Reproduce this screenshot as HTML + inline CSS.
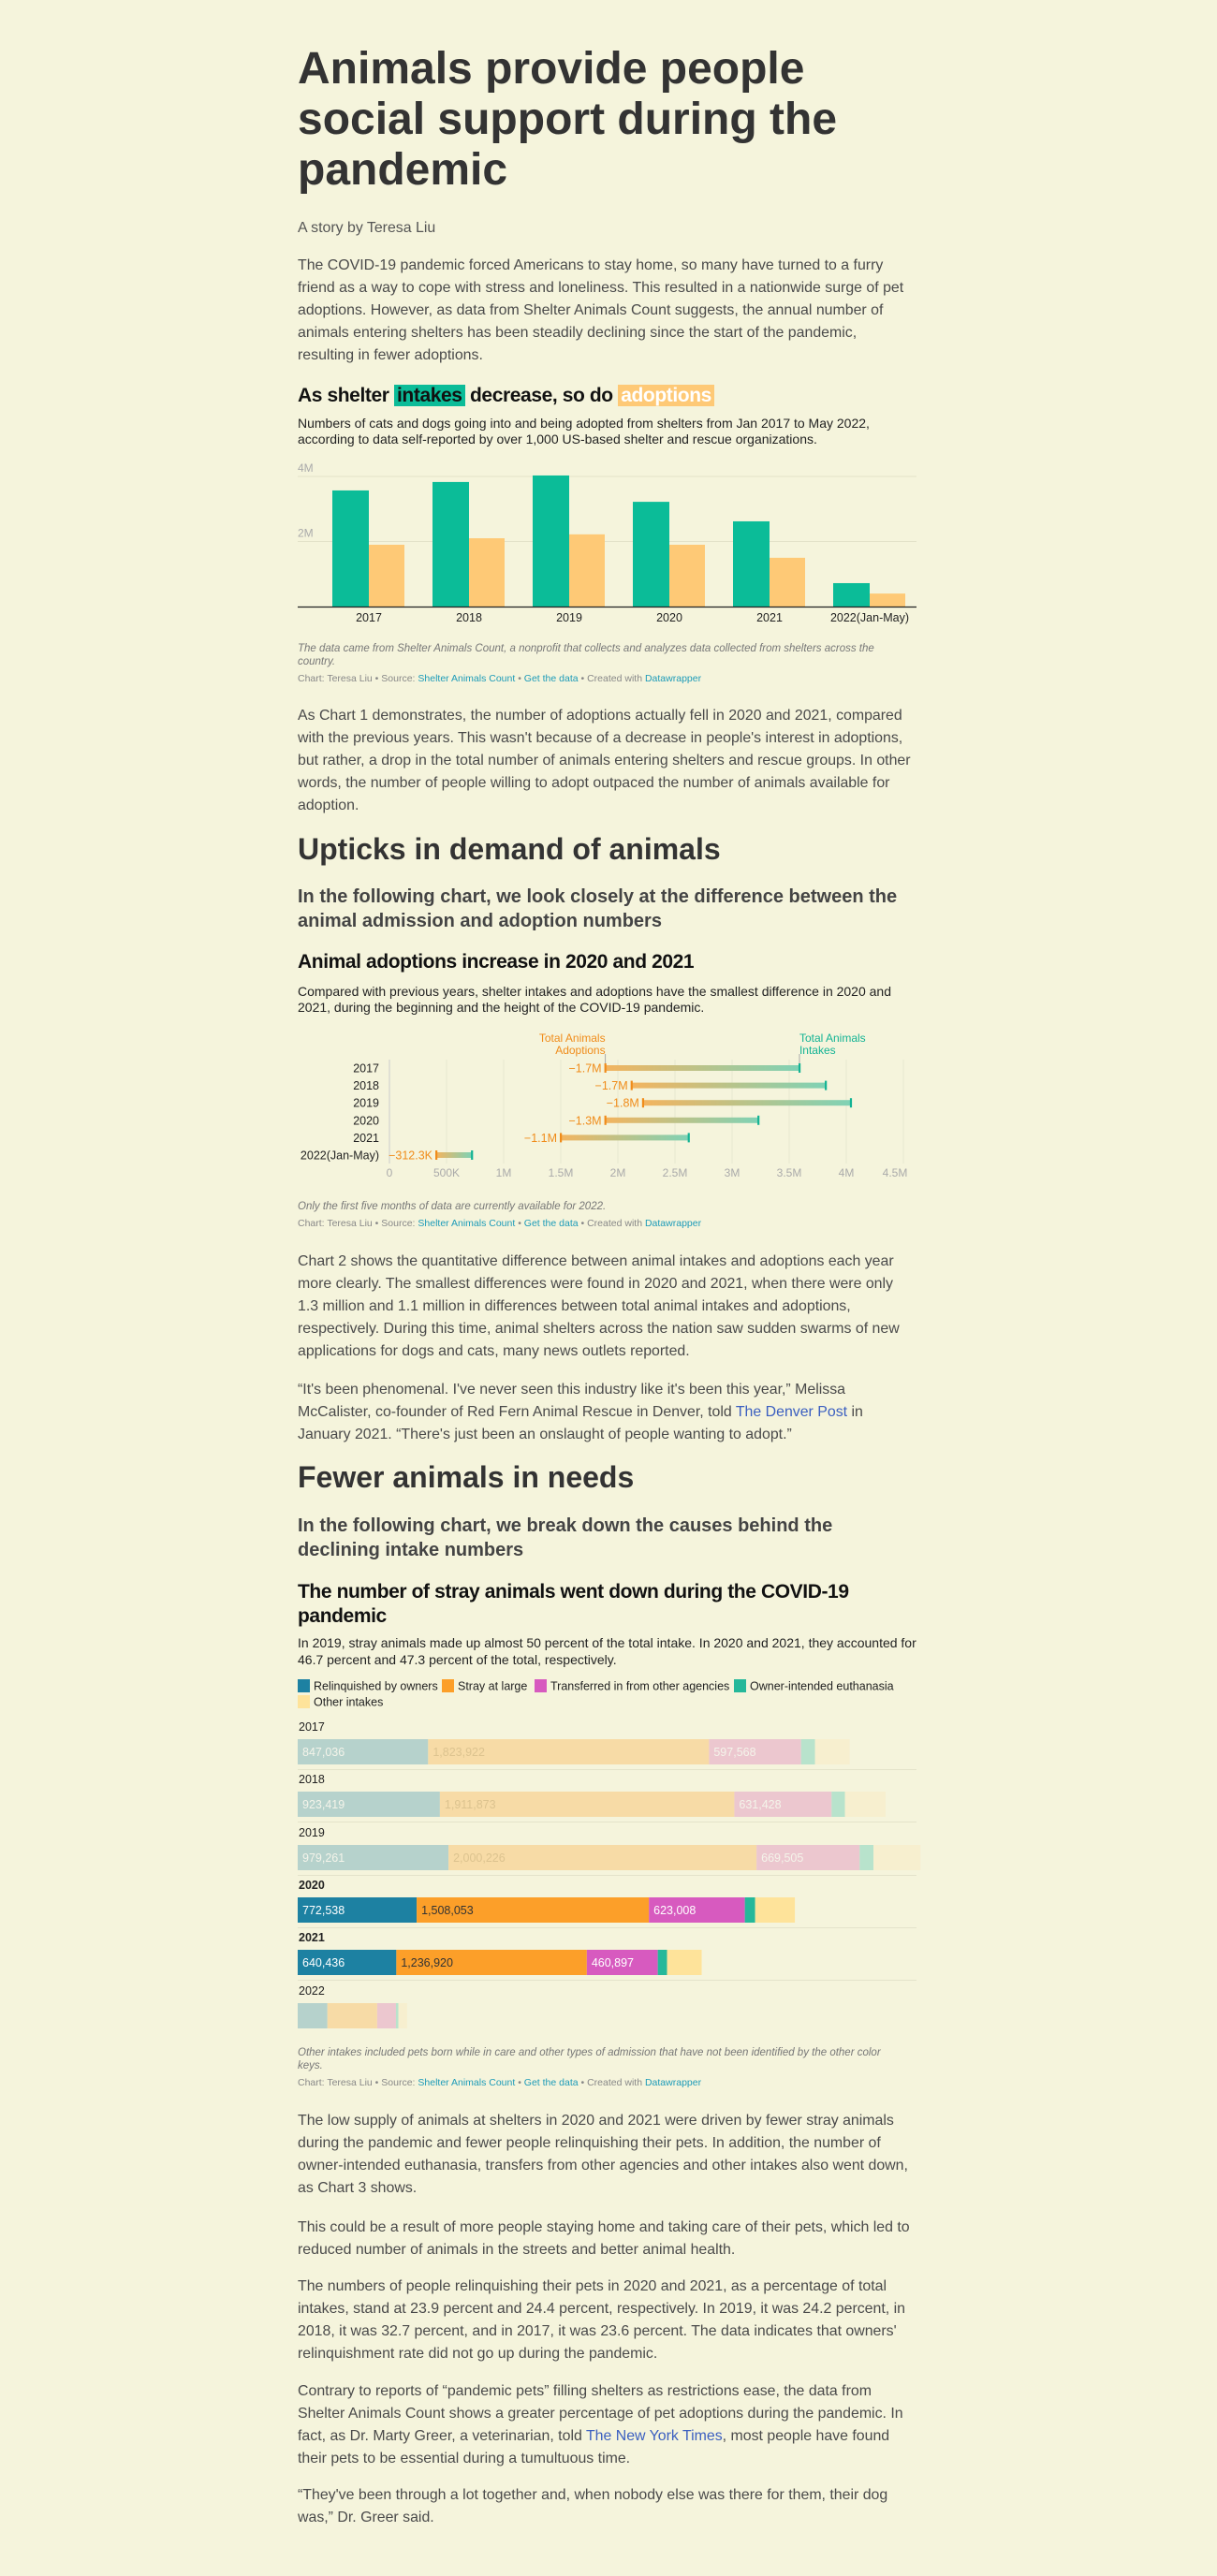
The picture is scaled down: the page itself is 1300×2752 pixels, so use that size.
<!DOCTYPE html>
<html><head><meta charset="utf-8">
<style>
html,body{margin:0;padding:0;}
body{width:1300px;height:2752px;background:#f5f4dc;position:relative;overflow:hidden;font-family:"Liberation Sans",sans-serif;}
.a{position:absolute;left:318px;white-space:nowrap;}
.p{font-size:15.9px;line-height:24px;color:#4a4a4a;}
.h1{font-size:48px;line-height:54px;font-weight:bold;color:#333;}
.h2{font-size:32px;line-height:40px;font-weight:bold;color:#333;}
.h3{font-size:20px;line-height:26px;font-weight:bold;color:#444;}
.ct{font-size:21px;line-height:26px;font-weight:bold;color:#111;letter-spacing:-0.4px;}
.cs{font-size:14px;line-height:17px;color:#222;}
.note{font-size:11.5px;line-height:14px;color:#777;font-style:italic;}
.cred{font-size:10.5px;line-height:14px;color:#888;}
.cred span{color:#1d9bb8;}
a.l{color:#3b5fc0;text-decoration:none;}
svg{position:absolute;left:0;top:0;}
</style></head>
<body>
<div class="a h1" style="top:47px">Animals provide people<br>social support during the<br>pandemic</div>
<div class="a p" style="top:232px;color:#555">A story by Teresa Liu</div>
<div class="a p" style="top:272px">The COVID-19 pandemic forced Americans to stay home, so many have turned to a furry<br>friend as a way to cope with stress and loneliness. This resulted in a nationwide surge of pet<br>adoptions. However, as data from Shelter Animals Count suggests, the annual number of<br>animals entering shelters has been steadily declining since the start of the pandemic,<br>resulting in fewer adoptions.</div>

<div class="a ct" style="top:410px">As shelter <span style="background:#0bbc98;padding:0 3px">intakes</span> decrease, so do <span style="background:#fec976;color:#fff;padding:0 3px">adoptions</span></div>
<div class="a cs" style="top:444px">Numbers of cats and dogs going into and being adopted from shelters from Jan 2017 to May 2022,<br>according to data self-reported by over 1,000 US-based shelter and rescue organizations.</div>
<div class="a note" style="top:686px">The data came from Shelter Animals Count, a nonprofit that collects and analyzes data collected from shelters across the<br>country.</div>
<div class="a cred" style="top:718px">Chart: Teresa Liu • Source: <span>Shelter Animals Count</span> • <span>Get the data</span> • Created with <span>Datawrapper</span></div>

<div class="a p" style="top:753px">As Chart 1 demonstrates, the number of adoptions actually fell in 2020 and 2021, compared<br>with the previous years. This wasn't because of a decrease in people's interest in adoptions,<br>but rather, a drop in the total number of animals entering shelters and rescue groups. In other<br>words, the number of people willing to adopt outpaced the number of animals available for<br>adoption.</div>
<div class="a h2" style="top:887px">Upticks in demand of animals</div>
<div class="a h3" style="top:945px">In the following chart, we look closely at the difference between the<br>animal admission and adoption numbers</div>
<div class="a ct" style="top:1015px">Animal adoptions increase in 2020 and 2021</div>
<div class="a cs" style="top:1051px">Compared with previous years, shelter intakes and adoptions have the smallest difference in 2020 and<br>2021, during the beginning and the height of the COVID-19 pandemic.</div>
<div class="a note" style="top:1282px">Only the first five months of data are currently available for 2022.</div>
<div class="a cred" style="top:1300px">Chart: Teresa Liu • Source: <span>Shelter Animals Count</span> • <span>Get the data</span> • Created with <span>Datawrapper</span></div>

<div class="a p" style="top:1336px">Chart 2 shows the quantitative difference between animal intakes and adoptions each year<br>more clearly. The smallest differences were found in 2020 and 2021, when there were only<br>1.3 million and 1.1 million in differences between total animal intakes and adoptions,<br>respectively. During this time, animal shelters across the nation saw sudden swarms of new<br>applications for dogs and cats, many news outlets reported.</div>
<div class="a p" style="top:1473px">“It's been phenomenal. I've never seen this industry like it's been this year,” Melissa<br>McCalister, co-founder of Red Fern Animal Rescue in Denver, told <a class="l">The Denver Post</a> in<br>January 2021. “There's just been an onslaught of people wanting to adopt.”</div>
<div class="a h2" style="top:1558px">Fewer animals in needs</div>
<div class="a h3" style="top:1617px">In the following chart, we break down the causes behind the<br>declining intake numbers</div>
<div class="a ct" style="top:1688px">The number of stray animals went down during the COVID-19<br>pandemic</div>
<div class="a cs" style="top:1746px;line-height:18px">In 2019, stray animals made up almost 50 percent of the total intake. In 2020 and 2021, they accounted for<br>46.7 percent and 47.3 percent of the total, respectively.</div>
<div class="a note" style="top:2186px">Other intakes included pets born while in care and other types of admission that have not been identified by the other color<br>keys.</div>
<div class="a cred" style="top:2218px">Chart: Teresa Liu • Source: <span>Shelter Animals Count</span> • <span>Get the data</span> • Created with <span>Datawrapper</span></div>

<div class="a p" style="top:2254px">The low supply of animals at shelters in 2020 and 2021 were driven by fewer stray animals<br>during the pandemic and fewer people relinquishing their pets. In addition, the number of<br>owner-intended euthanasia, transfers from other agencies and other intakes also went down,<br>as Chart 3 shows.</div>
<div class="a p" style="top:2368px">This could be a result of more people staying home and taking care of their pets, which led to<br>reduced number of animals in the streets and better animal health.</div>
<div class="a p" style="top:2431px">The numbers of people relinquishing their pets in 2020 and 2021, as a percentage of total<br>intakes, stand at 23.9 percent and 24.4 percent, respectively. In 2019, it was 24.2 percent, in<br>2018, it was 32.7 percent, and in 2017, it was 23.6 percent. The data indicates that owners'<br>relinquishment rate did not go up during the pandemic.</div>
<div class="a p" style="top:2543px">Contrary to reports of “pandemic pets” filling shelters as restrictions ease, the data from<br>Shelter Animals Count shows a greater percentage of pet adoptions during the pandemic. In<br>fact, as Dr. Marty Greer, a veterinarian, told <a class="l">The New York Times</a>, most people have found<br>their pets to be essential during a tumultuous time.</div>
<div class="a p" style="top:2654px">“They've been through a lot together and, when nobody else was there for them, their dog<br>was,” Dr. Greer said.</div>

<svg id="chart" width="1300" height="2752"></svg>

<script>
// Chart 1 data
const c1Years = ["2017","2018","2019","2020","2021","2022(Jan-May)"];
const c1Intakes = [3.57, 3.83, 4.03, 3.22, 2.62, 0.72];
const c1Adoptions = [1.90, 2.10, 2.22, 1.90, 1.50, 0.40];
const c1Ticks = ["2M","4M"];
const c1TickVals = [2, 4];
// Chart 2 data
const c2Years = ["2017","2018","2019","2020","2021","2022(Jan-May)"];
const c2Intakes = [3590000, 3820000, 4040000, 3230000, 2620000, 722300];
const c2Adoptions = [1890000, 2120000, 2220000, 1890000, 1500000, 410000];
const c2TickVals = [0, 0.5, 1, 1.5, 2, 2.5, 3, 3.5, 4, 4.5];
const c2TickLabels = ["0","500K","1M","1.5M","2M","2.5M","3M","3.5M","4M","4.5M"];
// Chart 3 data
const c3Years = ["2017","2018","2019","2020","2021","2022"];
const c3Relinquished = [847036, 923419, 979261, 772538, 640436, 193000];
const c3Stray = [1823922, 1911873, 2000226, 1508053, 1236920, 323000];
const c3Transferred = [597568, 631428, 669505, 623008, 460897, 122000];
const c3Euthanasia = [91000, 87000, 90000, 67000, 60000, 16000];
const c3Other = [225000, 264000, 305000, 258000, 225000, 57000];
const c3Highlight = [false, false, false, true, true, false];
const c3Labels = ["Relinquished by owners","Stray at large","Transferred in from other agencies","Owner-intended euthanasia","Other intakes"];

const svg = document.getElementById('chart');
const NS = 'http://www.w3.org/2000/svg';
function mk(tag, attrs, parent){
  const e = document.createElementNS(NS, tag);
  for (const k in attrs) e.setAttribute(k, attrs[k]);
  (parent||svg).appendChild(e);
  return e;
}
function txt(x,y,s,attrs,parent){
  const t = mk('text', Object.assign({x:x,y:y,'font-family':'Liberation Sans, sans-serif'},attrs), parent);
  t.textContent = s; return t;
}

// ---------- Chart 1 ----------
const g1 = mk('g',{});


const y1 = v => 648 - v * 34.75;
const x1 = i => 355 + i * 107;
c1TickVals.forEach((v,i)=>{
  const l = mk('line',{x1:318,x2:979,y1:y1(v),y2:y1(v),stroke:'#e3e2c9','stroke-width':1},g1);
  
  
  const t = txt(318,y1(v)-5,c1Ticks[i],{'font-size':12,fill:'#aaa'},g1);
  
  
});
c1Years.forEach((yr,i)=>{
  const b = mk('rect',{x:x1(i),y:y1(c1Intakes[i]),width:39,height:648-y1(c1Intakes[i]),fill:'#0bbc98'},g1);
  
  
  const b2 = mk('rect',{x:x1(i)+39,y:y1(c1Adoptions[i]),width:38,height:648-y1(c1Adoptions[i]),fill:'#fec976'},g1);
  
  
  const t = txt(x1(i)+39,664,yr,{'font-size':12.5,fill:'#222','text-anchor':'middle'},g1);
  
  
});
const ax1 = mk('line',{x1:318,x2:979,y1:648.5,y2:648.5,stroke:'#222','stroke-width':1.2},g1);



// ---------- Chart 2 ----------
const g2 = mk('g',{});


const x2 = v => 416 + v / 1e6 * 122;
const y2 = i => 1141 + i * 18.6;
const defs = mk('defs',{});
const grad = mk('linearGradient',{id:'gr',x1:0,x2:1,y1:0,y2:0},defs);
mk('stop',{offset:'0','stop-color':'#f3b45f'},grad);
mk('stop',{offset:'1','stop-color':'#7fd2b5'},grad);
c2TickVals.forEach((v,i)=>{
  const x = x2(v*1e6);
  const l = mk('line',{x1:x,x2:x,y1:1132,y2:1243,stroke:i===0?'#ccc':'#e8e7d0','stroke-width':1},g2);
  
  
  const t = txt(Math.min(x,956),1257,c2TickLabels[i],{'font-size':12,fill:'#aaa','text-anchor':'middle'},g2);
  
  
});
function fmt(d){ return d>=1e6 ? '−'+(d/1e6).toFixed(1)+'M' : '−'+(d/1e3).toFixed(1)+'K'; }
c2Years.forEach((yr,i)=>{
  const y = y2(i), xa = x2(c2Adoptions[i]), xi = x2(c2Intakes[i]);
  const lab = txt(405,y+4.5,yr,{'font-size':12.5,fill:'#222','text-anchor':'end'},g2);
  
  
  const bar = mk('rect',{x:xa,y:y-3,width:xi-xa,height:6,fill:'url(#gr)'},g2);
  
  
  const ta = mk('rect',{x:xa-1,y:y-5,width:2.2,height:10,fill:'#f08c1a'},g2);
  
  
  const ti = mk('rect',{x:xi-1,y:y-5,width:2.2,height:10,fill:'#13b394'},g2);
  
  
  const v = txt(xa-4,y+4.5,fmt(c2Intakes[i]-c2Adoptions[i]),{'font-size':12.5,fill:'#f08c1a','text-anchor':'end'},g2);
  
  
});
const xa0 = x2(c2Adoptions[0]), xi0 = x2(c2Intakes[0]);
mk('line',{x1:xa0,x2:xa0,y1:1126,y2:1136,stroke:'#aaa','stroke-width':1},g2);
mk('line',{x1:xi0,x2:xi0,y1:1126,y2:1136,stroke:'#aaa','stroke-width':1},g2);
const la1 = txt(xa0,1113,'Total Animals',{'font-size':12,fill:'#f08c1a','text-anchor':'end'},g2);


txt(xa0,1126,'Adoptions',{'font-size':12,fill:'#f08c1a','text-anchor':'end'},g2);
const li1 = txt(xi0,1113,'Total Animals',{'font-size':12,fill:'#13b394'},g2);


txt(xi0,1126,'Intakes',{'font-size':12,fill:'#13b394'},g2);

// ---------- Chart 3 ----------
const g3 = mk('g',{});


const full = ['#1d81a2','#fc9f29','#d75abf','#25b89a','#fee39a'];
const faded = ['#b6d2cc','#f7dba6','#ecc7cf','#b8e3cc','#f7efcf'];
const legX = [318,472,571,784,318];
const legY = [1794,1794,1794,1794,1811];
c3Labels.forEach((s,i)=>{
  const r = mk('rect',{x:legX[i],y:legY[i],width:13,height:14,fill:full[i]},g3);
  
  
  const t = txt(legX[i]+17,legY[i]+11.5,s,{'font-size':12.5,fill:'#222'},g3);
  
  
});
const x3 = v => v * 164.5 / 1e6;
const rowY = [1858,1914,1971,2027,2083,2140];
const series = [c3Relinquished,c3Stray,c3Transferred,c3Euthanasia,c3Other];
c3Years.forEach((yr,i)=>{
  const hi = c3Highlight[i];
  const yl = txt(319,rowY[i]-9,yr,{'font-size':12.5,fill:'#222','font-weight':hi?'bold':'normal'},g3);
  
  
  let x = 318;
  series.forEach((arr,k)=>{
    const w = x3(arr[i]);
    const r = mk('rect',{x:x,y:rowY[i],width:w,height:27,fill:hi?full[k]:faded[k]},g3);
    
    
    if (k<3 && i<5){
      const col = hi ? (k===1?'#333':'#fff') : (k===1?'#dcc38f':'#f4f4ea');
      const t = txt(x+5,rowY[i]+18,arr[i].toLocaleString('en-US'),{'font-size':12.5,fill:col},g3);
      
      
    }
    x += w;
  });
  if (i<5){
    const l = mk('line',{x1:318,x2:979,y1:rowY[i]+32.5,y2:rowY[i]+32.5,stroke:'#e4e3ca','stroke-width':1},g3);
    
    
  }
});
</script>
</body></html>
